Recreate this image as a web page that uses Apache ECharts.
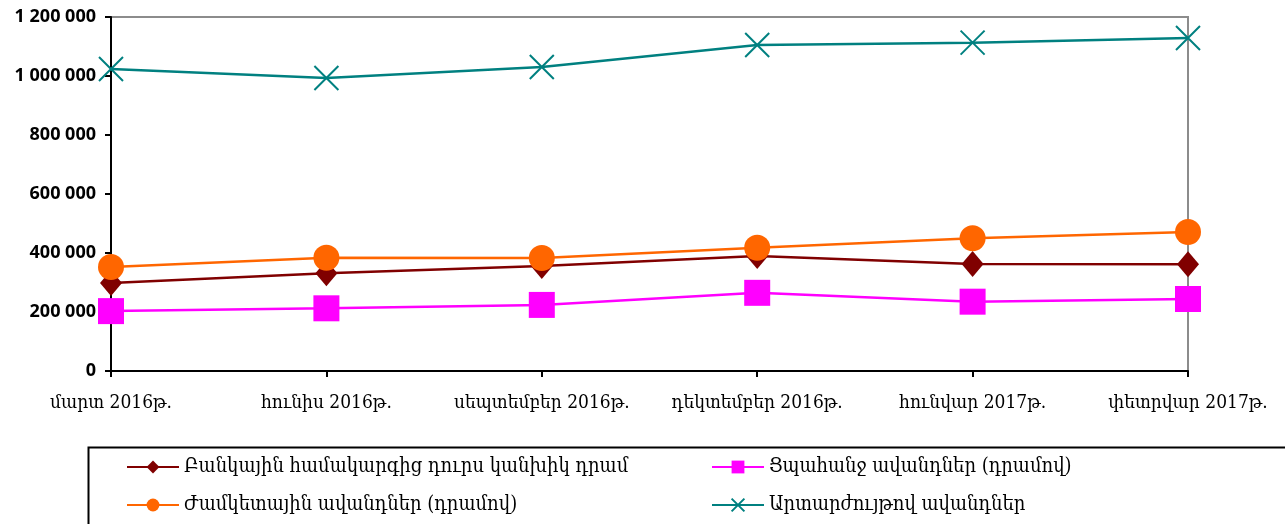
<!DOCTYPE html>
<html>
<head>
<meta charset="utf-8">
<script src="https://cdn.jsdelivr.net/npm/echarts@6/dist/echarts.min.js"></script>
<style>
  html, body { margin: 0; padding: 0; background: #fff; }
  #main { width: 1285px; height: 524px; }
</style>
</head>
<body>
<div id="main"></div>
<script>
// data
var categories = ['մարտ 2016թ.', 'հունիս 2016թ.', 'սեպտեմբեր 2016թ.', 'դեկտեմբեր 2016թ.', 'հունվար 2017թ.', 'փետրվար 2017թ.'];
var cashOutside = [298000, 331000, 356000, 390000, 363000, 361500];
var demandDeposits = [203000, 212500, 224000, 265000, 235000, 244000];
var timeDeposits = [352500, 384000, 383000, 418000, 450000, 471000];
var fxDeposits = [1023700, 993200, 1030500, 1105000, 1113000, 1128800];
var seriesNames = [
  'Բանկային համակարգից դուրս կանխիկ դրամ',
  'Ցպահանջ ավանդներ (դրամով)',
  'Ժամկետային ավանդներ (դրամով)',
  'Արտարժույթով ավանդներ'
];

var myChart = echarts.init(document.getElementById('main'));

var armFont = '"DejaVu Serif Condensed", "DejaVu Serif", serif';
var crossPath = 'path://M0,0L10,10M10,0L0,10';

var legendText = { fontFamily: armFont, fontSize: 20, color: '#000' };

var option = {
  animation: false,
  backgroundColor: '#fff',
  grid: {
    left: 111, right: 97, top: 17, bottom: 153,
    show: true, borderColor: '#8c8c8c', borderWidth: 2
  },
  graphic: [{
    type: 'rect',
    left: 86, top: 445,
    shape: { width: 1300, height: 100 },
    style: { fill: 'none', stroke: '#000', lineWidth: 2 }
  }],
  legend: [
    {
      orient: 'vertical', left: 121, top: 452, itemGap: 18,
      itemWidth: 52, itemHeight: 16,
      data: [seriesNames[0], seriesNames[2]],
      textStyle: legendText
    },
    {
      orient: 'vertical', left: 706, top: 452, itemGap: 18,
      itemWidth: 52, itemHeight: 16,
      data: [seriesNames[1], seriesNames[3]],
      textStyle: legendText
    }
  ],
  xAxis: {
    type: 'category',
    data: categories,
    boundaryGap: false,
    axisLine: { lineStyle: { color: '#000', width: 2 } },
    axisTick: { interval: 0, length: 6, lineStyle: { color: '#000', width: 2 } },
    axisLabel: { interval: 0, hideOverlap: false, margin: 23, fontFamily: armFont, fontSize: 19, color: '#000' }
  },
  yAxis: {
    type: 'value',
    min: 0, max: 1200000, interval: 200000,
    axisLine: { show: true, lineStyle: { color: '#000', width: 2 } },
    axisTick: { show: true, length: 6, lineStyle: { color: '#000', width: 2 } },
    splitLine: { show: false },
    axisLabel: {
      margin: 15,
      fontFamily: '"Open Sans", sans-serif', fontWeight: 'bold', fontSize: 18, color: '#000',
      formatter: function (v) { return String(v).replace(/\B(?=(\d{3})+(?!\d))/g, ' '); }
    }
  },
  series: [
    {
      name: seriesNames[0], type: 'line', data: cashOutside,
      symbol: 'diamond', symbolSize: [22, 26],
      lineStyle: { color: '#800000', width: 2.5 },
      itemStyle: { color: '#800000' }
    },
    {
      name: seriesNames[1], type: 'line', data: demandDeposits,
      symbol: 'rect', symbolSize: 26,
      lineStyle: { color: '#ff00ff', width: 2.5 },
      itemStyle: { color: '#ff00ff' }
    },
    {
      name: seriesNames[2], type: 'line', data: timeDeposits,
      symbol: 'circle', symbolSize: 26,
      lineStyle: { color: '#ff6600', width: 2.5 },
      itemStyle: { color: '#ff6600' }
    },
    {
      name: seriesNames[3], type: 'line', data: fxDeposits,
      symbol: crossPath, symbolSize: 24,
      lineStyle: { color: '#008080', width: 2.5 },
      itemStyle: { color: 'none', borderColor: '#008080', borderWidth: 2 }
    }
  ]
};

myChart.setOption(option);
</script>
</body>
</html>
